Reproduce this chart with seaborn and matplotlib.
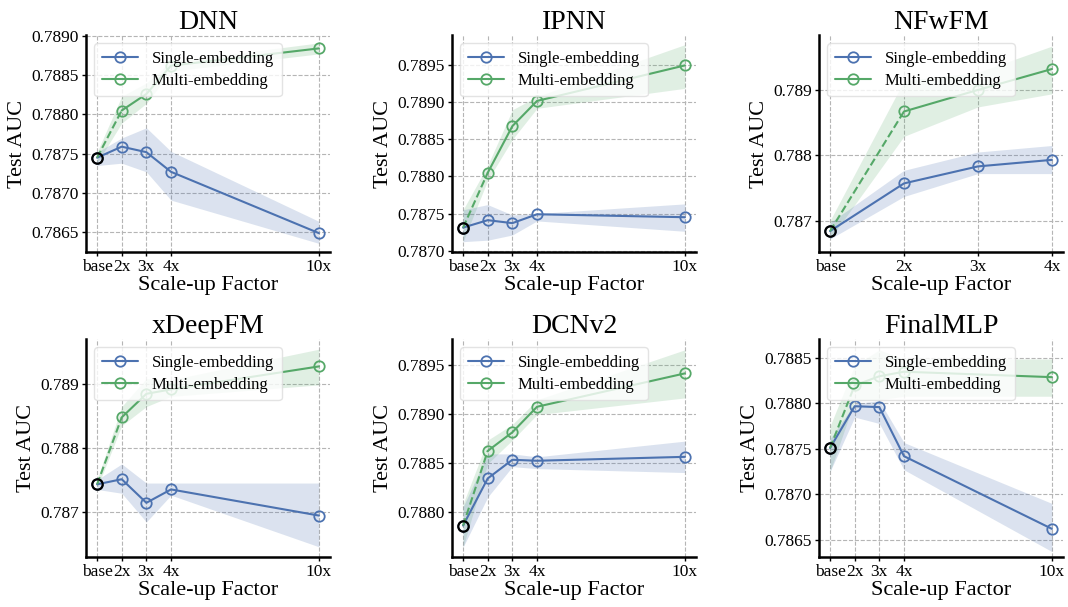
import numpy as np
import pandas as pd
import matplotlib
matplotlib.use("Agg")
import matplotlib.pyplot as plt
import seaborn as sns
from matplotlib.lines import Line2D

# ---------------- data ----------------
factors_long = [1, 2, 3, 4, 10]
labels_long = ["base", "2x", "3x", "4x", "10x"]
factors_short = [1, 2, 3, 4]
labels_short = ["base", "2x", "3x", "4x"]

# DNN
dnn_single = [0.78745, 0.78759, 0.78752, 0.78727, 0.78649]
dnn_single_lo = [0.78735, 0.78738, 0.78727, 0.78691, 0.78636]
dnn_single_hi = [0.78752, 0.78770, 0.78783, 0.78753, 0.78664]
dnn_multi = [0.78745, 0.78805, 0.78826, 0.78862, 0.78884]
dnn_multi_lo = [0.78738, 0.78789, 0.78814, 0.78855, 0.78877]
dnn_multi_hi = [0.78752, 0.78823, 0.78840, 0.78867, 0.78891]
dnn_yticks = [0.7865, 0.7870, 0.7875, 0.7880, 0.7885, 0.7890]

# IPNN
ipnn_single = [0.78731, 0.78741, 0.78737, 0.78749, 0.78745]
ipnn_single_lo = [0.78712, 0.78714, 0.78721, 0.78740, 0.78726]
ipnn_single_hi = [0.78755, 0.78762, 0.78748, 0.78750, 0.78763]
ipnn_multi = [0.78731, 0.78805, 0.78868, 0.78902, 0.78950]
ipnn_multi_lo = [0.78712, 0.78795, 0.78850, 0.78892, 0.78919]
ipnn_multi_hi = [0.78755, 0.78815, 0.78890, 0.78908, 0.78978]
ipnn_yticks = [0.7870, 0.7875, 0.7880, 0.7885, 0.7890, 0.7895]

# NFwFM
nfwfm_single = [0.78684, 0.78757, 0.78783, 0.78793]
nfwfm_single_lo = [0.78672, 0.78737, 0.78772, 0.78772]
nfwfm_single_hi = [0.78697, 0.78777, 0.78805, 0.78815]
nfwfm_multi = [0.78684, 0.78867, 0.78900, 0.78932]
nfwfm_multi_lo = [0.78672, 0.78829, 0.78874, 0.78894]
nfwfm_multi_hi = [0.78700, 0.78914, 0.78927, 0.78967]
nfwfm_yticks = [0.787, 0.788, 0.789]

# xDeepFM
xdfm_single = [0.78743, 0.78751, 0.78714, 0.78735, 0.78694]
xdfm_single_lo = [0.78735, 0.78729, 0.78684, 0.78726, 0.78645]
xdfm_single_hi = [0.78750, 0.78775, 0.78745, 0.78745, 0.78745]
xdfm_multi = [0.78743, 0.78848, 0.78885, 0.78892, 0.78928]
xdfm_multi_lo = [0.78737, 0.78835, 0.78865, 0.78881, 0.78899]
xdfm_multi_hi = [0.78750, 0.78865, 0.78909, 0.78907, 0.78955]
xdfm_yticks = [0.787, 0.788, 0.789]

# DCNv2
dcn_single = [0.78786, 0.78834, 0.78853, 0.78852, 0.78856]
dcn_single_lo = [0.78764, 0.78815, 0.78846, 0.78844, 0.78840]
dcn_single_hi = [0.78805, 0.78859, 0.78859, 0.78856, 0.78872]
dcn_multi = [0.78786, 0.78862, 0.78881, 0.78907, 0.78941]
dcn_multi_lo = [0.78764, 0.78849, 0.78873, 0.78899, 0.78916]
dcn_multi_hi = [0.78808, 0.78873, 0.78889, 0.78914, 0.78965]
dcn_yticks = [0.7880, 0.7885, 0.7890, 0.7895]

# FinalMLP
fmlp_single = [0.78751, 0.78797, 0.78796, 0.78742, 0.78662]
fmlp_single_lo = [0.78725, 0.78785, 0.78778, 0.78727, 0.78637]
fmlp_single_hi = [0.78761, 0.78800, 0.78803, 0.78757, 0.78690]
fmlp_multi = [0.78751, 0.78820, 0.78830, 0.78835, 0.78829]
fmlp_multi_lo = [0.78725, 0.78803, 0.78804, 0.78808, 0.78808]
fmlp_multi_hi = [0.78775, 0.78842, 0.78859, 0.78849, 0.78849]
fmlp_yticks = [0.7865, 0.7870, 0.7875, 0.7880, 0.7885]

panels = [
    ("DNN", factors_long, labels_long, dnn_single, dnn_single_lo, dnn_single_hi,
     dnn_multi, dnn_multi_lo, dnn_multi_hi, dnn_yticks, (0.78625, 0.78901), "%.4f"),
    ("IPNN", factors_long, labels_long, ipnn_single, ipnn_single_lo, ipnn_single_hi,
     ipnn_multi, ipnn_multi_lo, ipnn_multi_hi, ipnn_yticks, (0.78698, 0.78991), "%.4f"),
    ("NFwFM", factors_short, labels_short, nfwfm_single, nfwfm_single_lo, nfwfm_single_hi,
     nfwfm_multi, nfwfm_multi_lo, nfwfm_multi_hi, nfwfm_yticks, (0.78652, 0.78984), "%.3f"),
    ("xDeepFM", factors_long, labels_long, xdfm_single, xdfm_single_lo, xdfm_single_hi,
     xdfm_multi, xdfm_multi_lo, xdfm_multi_hi, xdfm_yticks, (0.78629, 0.78971), "%.3f"),
    ("DCNv2", factors_long, labels_long, dcn_single, dcn_single_lo, dcn_single_hi,
     dcn_multi, dcn_multi_lo, dcn_multi_hi, dcn_yticks, (0.78754, 0.78976), "%.4f"),
    ("FinalMLP", factors_long, labels_long, fmlp_single, fmlp_single_lo, fmlp_single_hi,
     fmlp_multi, fmlp_multi_lo, fmlp_multi_hi, fmlp_yticks, (0.78631, 0.78871), "%.4f"),
]

# ---------------- style ----------------
sns.set_theme(style="ticks")
plt.rcParams["font.family"] = ["Liberation Serif", "DejaVu Serif"]
for k in ["text.color", "axes.labelcolor", "xtick.color", "ytick.color"]:
    plt.rcParams[k] = "black"
BLUE = "#4C72B0"
GREEN = "#55A868"

fig = plt.figure(figsize=(10.68, 6.07), dpi=100)
W = 0.2285
lefts = [0.0805, 0.4232, 0.7668]
rows = [(0.5848, 0.3575), (0.0824, 0.3591)]

for i, p in enumerate(panels):
    (title, xs, xl, s, slo, shi, m, mlo, mhi, yt, ylim, fmt) = p
    r, c = divmod(i, 3)
    ax = fig.add_axes([lefts[c], rows[r][0], W, rows[r][1]])

    ax.fill_between(xs, mlo, mhi, color=GREEN, alpha=0.18, linewidth=0)
    ax.fill_between(xs, slo, shi, color=BLUE, alpha=0.2, linewidth=0)

    mk = dict(marker="o", markersize=7.5, markerfacecolor="none", markeredgewidth=1.3)
    sns.lineplot(x=xs, y=s, ax=ax, color=BLUE, linewidth=1.5,
                 markeredgecolor=BLUE, zorder=3, **mk)
    sns.lineplot(x=xs[:2], y=m[:2], ax=ax, color=GREEN, linewidth=1.5,
                 linestyle="--", zorder=3)
    sns.lineplot(x=xs[1:], y=m[1:], ax=ax, color=GREEN, linewidth=1.5,
                 markeredgecolor=GREEN, zorder=3, **mk)
    ax.plot(xs[:1], s[:1], linestyle="none", marker="o", markersize=7.5,
            markerfacecolor="none", markeredgecolor="black", markeredgewidth=1.6, zorder=5)

    ax.set_xticks(xs)
    ax.set_xticklabels(xl)
    ax.set_yticks(yt)
    ax.set_yticklabels([fmt % v for v in yt])
    ax.set_ylim(*ylim)
    ax.margins(x=0.05)

    ax.grid(True, linestyle="--", color="#b5b5b5", linewidth=0.8)
    ax.set_axisbelow(True)
    for sp in ["top", "right"]:
        ax.spines[sp].set_visible(False)
    for sp in ["left", "bottom"]:
        ax.spines[sp].set_linewidth(1.8)
        ax.spines[sp].set_color("black")
    ax.tick_params(axis="both", labelsize=12.5, length=3, width=1, colors="black", pad=2)

    ax.set_title(title, fontsize=20, pad=4)
    ax.set_xlabel("Scale-up Factor", fontsize=16, labelpad=1)
    ax.set_ylabel("Test AUC", fontsize=16, labelpad=3)

    handles = [
        Line2D([], [], color=BLUE, lw=1.5, marker="o", markersize=7.5,
               markerfacecolor="none", markeredgewidth=1.3),
        Line2D([], [], color=GREEN, lw=1.5, marker="o", markersize=7.5,
               markerfacecolor="none", markeredgewidth=1.3),
    ]
    leg = ax.legend(handles, ["Single-embedding", "Multi-embedding"], loc="upper left",
                    fontsize=12, frameon=True, framealpha=0.8, handlelength=2.2,
                    borderpad=0.45, labelspacing=0.35)
    leg.get_frame().set_edgecolor("#dddddd")

fig.savefig("out.png", dpi=100)
